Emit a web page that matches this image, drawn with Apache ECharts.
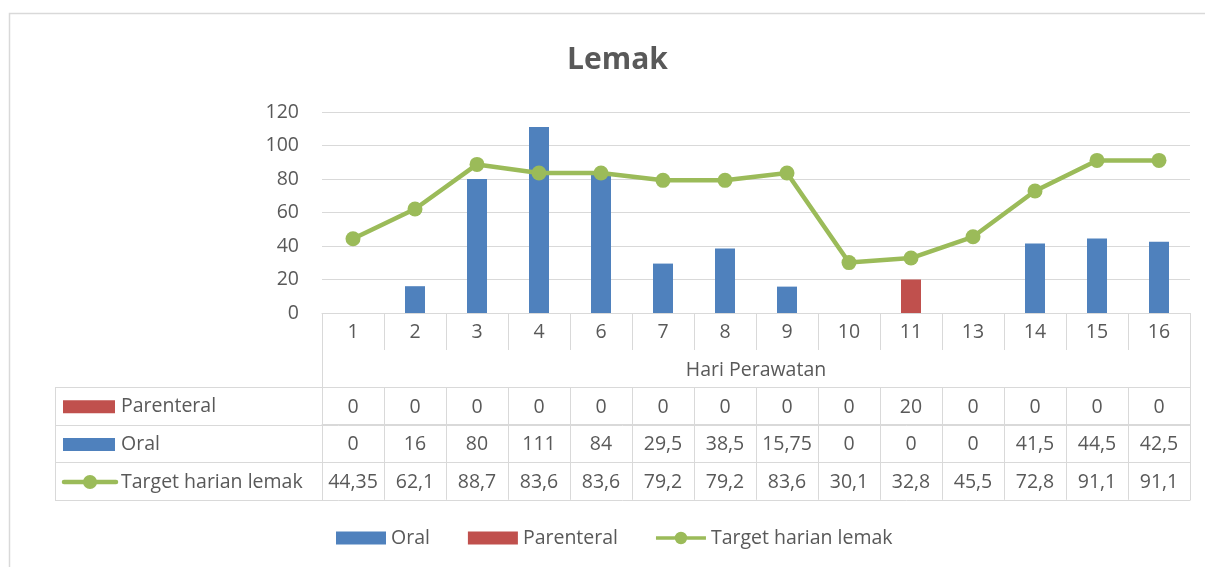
<!DOCTYPE html>
<html lang="id">
<head>
    <meta charset="UTF-8">
    <title>Lemak</title>
    <style>
        * { margin: 0; padding: 0; }
        html, body { width: 1205px; height: 567px; background: #fff; }
        #chart { width: 1205px; height: 567px; }
    </style>
</head>
<body>
    <div id="chart"></div>
    <script src="https://cdn.jsdelivr.net/npm/echarts@6/dist/echarts.min.js"></script>
    <script>
        // data
        var categories = ['1', '2', '3', '4', '6', '7', '8', '9', '10', '11', '13', '14', '15', '16'];
        var oral = [0, 16, 80, 111, 84, 29.5, 38.5, 15.75, 0, 0, 0, 41.5, 44.5, 42.5];
        var parenteral = [0, 0, 0, 0, 0, 0, 0, 0, 0, 20, 0, 0, 0, 0];
        var target = [44.35, 62.1, 88.7, 83.6, 83.6, 79.2, 79.2, 83.6, 30.1, 32.8, 45.5, 72.8, 91.1, 91.1];
        var yTicks = [0, 20, 40, 60, 80, 100, 120];

        var BLUE = '#4F81BD', RED = '#C0504D', GREEN = '#9BBB59';
        var TEXT = '#595959', LINE = '#d9d9d9';
        var FONT = 'Open Sans';
        var FS = 19.5;

        // layout of plot + data table
        var L = 322, R = 1190, TOP = 112, AX = 313;
        var ROW = 37.6, TL = 55;
        var rowTop = 387; // first data row line

        // legend icon for the line series: line with a dot in the middle
        var LINE_ICON = 'path://M0,5.1L21.2,5.1L21.2,8.9L0,8.9Z' +
            'M34.8,5.1L56,5.1L56,8.9L34.8,8.9Z' +
            'M21,7A7,7 0 1,1 35,7A7,7 0 1,1 21,7Z';

        // table rows, in drawing order
        var rows = [
            { name: 'Parenteral', values: parenteral, color: RED, kind: 'bar' },
            { name: 'Oral', values: oral, color: BLUE, kind: 'bar' },
            { name: 'Target harian lemak', values: target, color: GREEN, kind: 'line' }
        ];

        function fmt(v) {
            return String(v).replace('.', ',');
        }

        var chart = echarts.init(document.getElementById('chart'));

        var xAxes = [{
            type: 'category',
            data: categories,
            position: 'bottom',
            axisLine: { lineStyle: { color: LINE, width: 1 } },
            axisTick: { show: true, length: 37, interval: 0, lineStyle: { color: LINE } },
            axisLabel: { color: TEXT, fontSize: FS, fontFamily: FONT, margin: 9, interval: 0 },
            name: 'Hari Perawatan',
            nameLocation: 'middle',
            nameGap: 47,
            nameTextStyle: { color: TEXT, fontSize: FS, fontFamily: FONT }
        }];

        rows.forEach(function (row, i) {
            xAxes.push({
                type: 'category',
                data: categories,
                position: 'bottom',
                offset: rowTop - AX + ROW * i,
                axisLine: { show: true, onZero: false, lineStyle: { color: LINE } },
                axisTick: { show: true, length: ROW, interval: 0, lineStyle: { color: LINE } },
                axisLabel: {
                    color: TEXT, fontSize: FS, fontFamily: FONT, margin: 10, interval: 0,
                    formatter: function (v, idx) { return fmt(row.values[idx]); }
                }
            });
        });

        // table frame + left legend column
        var graphics = [{
            type: 'rect',
            shape: { x: 9.5, y: 13.5, width: 1300, height: 700 },
            style: { fill: null, stroke: LINE, lineWidth: 1.5 },
            silent: true
        }];
        for (var k = 0; k <= rows.length; k++) {
            var y = Math.round(rowTop + ROW * k) + 0.5;
            graphics.push({
                type: 'line',
                shape: { x1: TL, y1: y, x2: R, y2: y },
                style: { stroke: LINE, lineWidth: 1 }
            });
        }
        var yEnd = Math.round(rowTop + ROW * rows.length) + 0.5;
        graphics.push({ type: 'line', shape: { x1: TL + 0.5, y1: rowTop, x2: TL + 0.5, y2: yEnd }, style: { stroke: LINE, lineWidth: 1 } });
        graphics.push({ type: 'line', shape: { x1: L + 0.5, y1: AX, x2: L + 0.5, y2: yEnd }, style: { stroke: LINE, lineWidth: 1 } });
        graphics.push({ type: 'line', shape: { x1: R + 0.5, y1: AX, x2: R + 0.5, y2: yEnd }, style: { stroke: LINE, lineWidth: 1 } });

        rows.forEach(function (row, i) {
            var cy = rowTop + ROW * i + ROW / 2 + 1;
            if (row.kind === 'bar') {
                graphics.push({ type: 'rect', shape: { x: 63, y: cy - 6.5, width: 52, height: 13 }, style: { fill: row.color } });
            } else {
                graphics.push({ type: 'line', shape: { x1: 64, y1: cy, x2: 116, y2: cy }, style: { stroke: row.color, lineWidth: 4.5, lineCap: 'round' } });
                graphics.push({ type: 'circle', shape: { cx: 90, cy: cy, r: 7 }, style: { fill: row.color } });
            }
            graphics.push({
                type: 'text',
                x: 121, y: cy,
                style: { text: row.name, fill: TEXT, fontSize: FS, fontFamily: FONT, verticalAlign: 'middle' }
            });
        });

        var option = {
            animation: false,
            backgroundColor: '#fff',
            title: {
                text: 'Lemak',
                left: 562,
                top: 40,
                textStyle: { color: TEXT, fontSize: 30, fontWeight: 'bold', fontFamily: FONT }
            },
            legend: {
                left: 331,
                top: 523,
                itemWidth: 50,
                itemHeight: 13,
                itemGap: 38,
                textStyle: { color: TEXT, fontSize: FS, fontFamily: FONT },
                data: [
                    { name: 'Oral', icon: 'rect' },
                    { name: 'Parenteral', icon: 'rect' },
                    { name: 'Target harian lemak', icon: LINE_ICON }
                ]
            },
            grid: { left: L, right: 1205 - R, top: TOP, bottom: 567 - AX, containLabel: false },
            xAxis: xAxes,
            yAxis: {
                type: 'value',
                min: yTicks[0],
                max: yTicks[yTicks.length - 1],
                interval: 20,
                axisLine: { show: false },
                axisTick: { show: false },
                axisLabel: { color: TEXT, fontSize: FS, fontFamily: FONT, margin: 23 },
                splitLine: { lineStyle: { color: LINE, width: 1 } }
            },
            graphic: graphics,
            series: [{
                name: 'Oral',
                type: 'bar',
                stack: 'lemak',
                barWidth: 20,
                itemStyle: { color: BLUE },
                data: oral
            }, {
                name: 'Parenteral',
                type: 'bar',
                stack: 'lemak',
                barWidth: 20,
                itemStyle: { color: RED },
                data: parenteral
            }, {
                name: 'Target harian lemak',
                type: 'line',
                symbol: 'circle',
                symbolSize: 15,
                itemStyle: { color: GREEN },
                lineStyle: { color: GREEN, width: 4.5 },
                z: 5,
                data: target
            }]
        };

        chart.setOption(option);
    </script>
</body>
</html>
